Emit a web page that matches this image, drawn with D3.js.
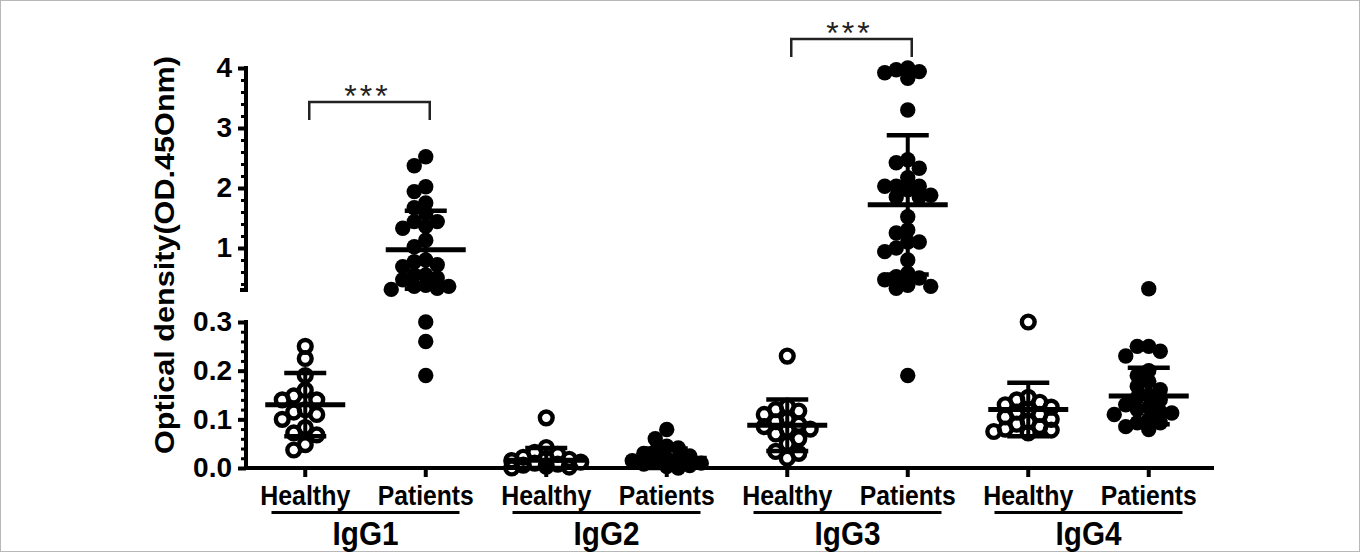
<!DOCTYPE html>
<html>
<head>
<meta charset="utf-8">
<script src="https://cdn.jsdelivr.net/npm/d3@7"></script>
<style>
  html, body { margin: 0; padding: 0; background: #fff; }
  svg { display: block; }
  text { font-family: "Liberation Sans", Arial, sans-serif; }
</style>
</head>
<body>
<svg id="chart" width="1360" height="552"></svg>
<script>
// ---------------- DATA ----------------
const subclasses = ["IgG1", "IgG2", "IgG3", "IgG4"];
const groupsNames = ["Healthy", "Patients"];

const igg1Healthy  = [0.25, 0.225, 0.19, 0.16, 0.148, 0.14, 0.14, 0.12, 0.115, 0.11, 0.10, 0.083, 0.072, 0.068, 0.048, 0.037];
const igg1Patients = [2.52, 2.37, 2.02, 1.94, 1.75, 1.67, 1.58, 1.44, 1.44, 1.36, 1.33, 1.13, 1.02, 0.80, 0.77, 0.72, 0.69, 0.55, 0.55, 0.50, 0.47, 0.38, 0.36, 0.36, 0.33, 0.31, 0.30, 0.26, 0.19];
const igg2Healthy  = [0.103, 0.042, 0.032, 0.028, 0.022, 0.02, 0.018, 0.015, 0.012, 0.01, 0.008, 0.006, 0.004, 0.002, 0.0];
const igg2Patients = [0.079, 0.06, 0.045, 0.041, 0.034, 0.03, 0.025, 0.02, 0.018, 0.015, 0.012, 0.01, 0.008, 0.005, 0.003, 0.0];
const igg3Healthy  = [0.23, 0.127, 0.12, 0.117, 0.11, 0.1, 0.095, 0.09, 0.085, 0.08, 0.079, 0.07, 0.06, 0.05, 0.034, 0.03, 0.02];
const igg3Patients = [4.0, 3.97, 3.94, 3.92, 3.83, 3.3, 2.47, 2.42, 2.33, 2.17, 2.03, 2.03, 2.03, 1.97, 1.88, 1.85, 1.85, 1.52, 1.3, 1.25, 1.1, 1.1, 1.0, 0.94, 0.8, 0.58, 0.52, 0.5, 0.47, 0.38, 0.36, 0.33, 0.19];
const igg4Healthy  = [0.30, 0.145, 0.14, 0.135, 0.13, 0.125, 0.12, 0.115, 0.11, 0.105, 0.10, 0.095, 0.09, 0.085, 0.08, 0.078, 0.075, 0.072];
const igg4Patients = [0.32, 0.25, 0.25, 0.24, 0.23, 0.20, 0.19, 0.178, 0.168, 0.161, 0.15, 0.145, 0.14, 0.13, 0.125, 0.12, 0.115, 0.113, 0.11, 0.10, 0.093, 0.093, 0.085, 0.079];

// mean and SD (order: IgG1 H, IgG1 P, IgG2 H, IgG2 P, IgG3 H, IgG3 P, IgG4 H, IgG4 P)
const means = [0.13, 0.97, 0.016, 0.02, 0.088, 1.72, 0.12, 0.148];
const sds   = [0.065, 0.65, 0.025, 0.02, 0.053, 1.16, 0.055, 0.058];

const lowerTicks = [0.0, 0.1, 0.2, 0.3];
const lowerTickLabels = ["0.0", "0.1", "0.2", "0.3"];
const upperTicks = [1, 2, 3, 4];
const upperTickLabels = ["1", "2", "3", "4"];
const breakValue = 0.3;
const upperMax = 4;

const sigSubclasses = ["IgG1", "IgG3"];
const sigLabels = ["***", "***"];

const yAxisTitle = "Optical density(OD.45Onm)";

// ---------------- LAYOUT ----------------
const svg = d3.select("#chart");
svg.append("rect").attr("x", 0.5).attr("y", 0.5).attr("width", 1359).attr("height", 551)
  .attr("fill", "white").attr("stroke", "#b8b8b8").attr("stroke-width", 1);

const axisX = 246;
const groupData = [igg1Healthy, igg1Patients, igg2Healthy, igg2Patients, igg3Healthy, igg3Patients, igg4Healthy, igg4Patients];
const keys = [];
subclasses.forEach(s => groupsNames.forEach(g => keys.push(s + "|" + g)));

const x = d3.scaleBand().domain(keys).range([245, 1209]).padding(0);
const cx = k => x(k) + x.bandwidth() / 2;

const yLow = d3.scaleLinear().domain([0, breakValue]).range([468, 322]);
const yHigh = d3.scaleLinear().domain([breakValue, upperMax]).range([290, 68]);
const yv = v => v > breakValue ? yHigh(v) : yLow(v);

// ---------------- AXES ----------------
function styleAxis(g, sw) {
  g.selectAll("path.domain").remove();
  g.selectAll(".tick line").attr("stroke", "#000").attr("stroke-width", sw);
  g.selectAll(".tick text").attr("fill", "#000").attr("font-size", 28).attr("font-weight", "bold")
    .attr("font-family", '"Liberation Sans", Arial, sans-serif');
}

const lowerMinor = d3.range(0.02, 0.3, 0.02).filter(v => Math.abs(v * 10 - Math.round(v * 10)) > 1e-6);
const upperMinor = d3.range(0.4, 4.0, 0.2).filter(v => Math.abs(v - Math.round(v)) > 1e-6);

const gLowMinor = svg.append("g").attr("transform", `translate(${axisX},0)`)
  .call(d3.axisLeft(yLow).tickValues(lowerMinor).tickSize(5).tickSizeOuter(0).tickFormat(""));
styleAxis(gLowMinor, 3);
const gUpMinor = svg.append("g").attr("transform", `translate(${axisX},0)`)
  .call(d3.axisLeft(yHigh).tickValues(upperMinor).tickSize(5).tickSizeOuter(0).tickFormat(""));
styleAxis(gUpMinor, 3);

const gLow = svg.append("g").attr("transform", `translate(${axisX},0)`)
  .call(d3.axisLeft(yLow).tickValues(lowerTicks).tickSize(8).tickPadding(6).tickSizeOuter(0)
    .tickFormat((d, i) => lowerTickLabels[i]));
styleAxis(gLow, 4);
const gUp = svg.append("g").attr("transform", `translate(${axisX},0)`)
  .call(d3.axisLeft(yHigh).tickValues(upperTicks).tickSize(8).tickPadding(6).tickSizeOuter(0)
    .tickFormat((d, i) => upperTickLabels[i]));
styleAxis(gUp, 4);

svg.append("line").attr("x1", axisX).attr("x2", axisX).attr("y1", yLow(breakValue) - 2).attr("y2", yLow(0) + 2)
  .attr("stroke", "#000").attr("stroke-width", 4);
svg.append("line").attr("x1", axisX).attr("x2", axisX).attr("y1", yHigh(upperMax) - 2).attr("y2", yHigh(breakValue) + 2)
  .attr("stroke", "#000").attr("stroke-width", 4);
svg.append("line").attr("x1", axisX - 6).attr("x2", axisX).attr("y1", yHigh(breakValue)).attr("y2", yHigh(breakValue))
  .attr("stroke", "#000").attr("stroke-width", 4);

// x axis
const gx = svg.append("g").attr("transform", `translate(0,${yLow(0)})`)
  .call(d3.axisBottom(x).tickSize(9).tickFormat(""));
gx.selectAll("path.domain").remove();
gx.selectAll(".tick line").attr("stroke", "#000").attr("stroke-width", 4);
svg.append("line").attr("x1", axisX - 2).attr("x2", 1214).attr("y1", yLow(0)).attr("y2", yLow(0))
  .attr("stroke", "#000").attr("stroke-width", 4);

// y title
svg.append("text")
  .attr("transform", `translate(174,${(yHigh(upperMax) + yLow(0)) / 2 - 13}) rotate(-90)`)
  .attr("text-anchor", "middle").attr("font-size", 27).attr("font-weight", "bold")
  .attr("textLength", 398).attr("lengthAdjust", "spacingAndGlyphs")
  .text(yAxisTitle);

// category labels
keys.forEach((k, i) => {
  const name = groupsNames[i % 2];
  svg.append("text").attr("x", cx(k)).attr("y", 505).attr("text-anchor", "middle")
    .attr("font-size", 27).attr("font-weight", "bold")
    .attr("textLength", name === "Healthy" ? 90 : 96).attr("lengthAdjust", "spacingAndGlyphs")
    .text(name);
});
subclasses.forEach((s, i) => {
  const c = (cx(s + "|Healthy") + cx(s + "|Patients")) / 2;
  svg.append("line").attr("x1", c - 94).attr("x2", c + 94).attr("y1", 512.5).attr("y2", 512.5)
    .attr("stroke", "#000").attr("stroke-width", 3);
  svg.append("text").attr("x", c).attr("y", 545).attr("text-anchor", "middle")
    .attr("font-size", 34).attr("font-weight", "bold")
    .attr("textLength", 66).attr("lengthAdjust", "spacingAndGlyphs")
    .text(s);
});

// ---------------- POINTS (beeswarm) ----------------
const step = 11.5, minD = 10, maxK = 3;
function swarm(values, center) {
  const pts = values.map(v => ({ v, y: yv(v) })).sort((a, b) => a.y - b.y);
  const placed = [];
  const offs = [0];
  for (let k = 1; k <= maxK; k++) { offs.push(-k * step, k * step); }
  pts.forEach(p => {
    let best = null, bestD = -1;
    for (const o of offs) {
      const xx = center + o;
      const d = placed.length ? d3.min(placed, q => Math.hypot(q.x - xx, q.y - p.y)) : Infinity;
      if (d >= minD) { best = xx; bestD = d; break; }
      if (d > bestD) { bestD = d; best = xx; }
    }
    p.x = best;
    placed.push(p);
  });
  return pts;
}

keys.forEach((k, i) => {
  const pts = swarm(groupData[i], cx(k));
  const open = i % 2 === 0;
  svg.append("g").selectAll("circle").data(pts).join("circle")
    .attr("cx", d => d.x).attr("cy", d => d.y)
    .attr("r", open ? 6.4 : 7.7)
    .attr("fill", open ? "none" : "#000")
    .attr("stroke", open ? "#000" : "none")
    .attr("stroke-width", open ? 4.4 : 0);
});

// ---------------- MEAN +/- SD ----------------
keys.forEach((k, i) => {
  const c = cx(k);
  const m = means[i], s = sds[i];
  const top = m + s, bot = Math.max(0, m - s);
  const g = svg.append("g").attr("stroke", "#000");
  const yTop = yv(top);
  let yBot;
  if (m > breakValue) yBot = bot > breakValue ? yHigh(bot) : yHigh(breakValue);
  else yBot = yLow(bot);
  g.append("line").attr("x1", c).attr("x2", c).attr("y1", yTop).attr("y2", yBot).attr("stroke-width", 4);
  g.append("line").attr("x1", c - 21).attr("x2", c + 21).attr("y1", yTop).attr("y2", yTop).attr("stroke-width", 4.5);
  if (!(m > breakValue && bot <= breakValue)) {
    g.append("line").attr("x1", c - 21).attr("x2", c + 21).attr("y1", yBot).attr("y2", yBot).attr("stroke-width", 4.5);
  }
  g.append("line").attr("x1", c - 40).attr("x2", c + 40).attr("y1", yv(m)).attr("y2", yv(m)).attr("stroke-width", 5);
});

// ---------------- SIGNIFICANCE ----------------
const bracketTops = { IgG1: 102, IgG3: 39 };
sigSubclasses.forEach((s, i) => {
  const x1 = cx(s + "|Healthy") + 4, x2 = cx(s + "|Patients") + 4;
  const yt = bracketTops[s];
  svg.append("path").attr("d", `M${x1},${yt + 18}V${yt}H${x2}V${yt + 18}`)
    .attr("fill", "none").attr("stroke", "#222").attr("stroke-width", 2.5);
  svg.append("text").attr("x", (x1 + x2) / 2 - 2).attr("y", yt + 5).attr("text-anchor", "middle")
    .attr("font-size", 32).attr("letter-spacing", 3).attr("fill", "#222")
    .attr("font-family", '"DejaVu Sans", sans-serif')
    .text(sigLabels[i]);
});
</script>
</body>
</html>
